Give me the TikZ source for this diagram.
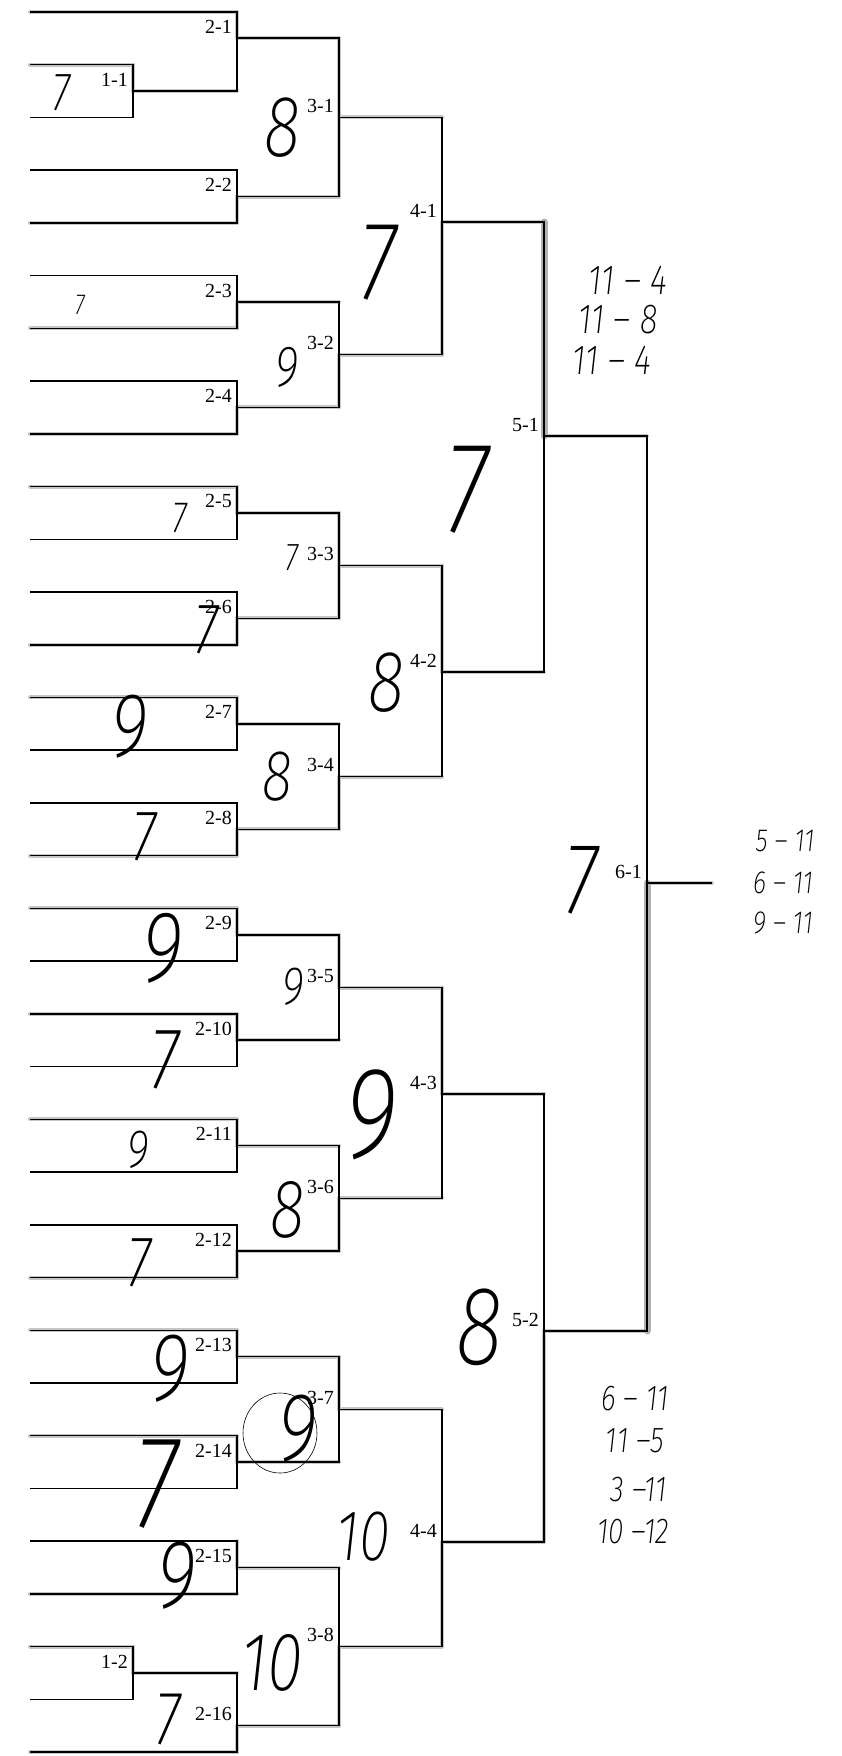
\documentclass[tikz,border=0pt]{standalone}
\usepackage{fontspec}
\setmainfont{Liberation Serif}
\newfontfamily\handfont{Fira Sans ExtraLight Italic}[FakeStretch=0.78]
\usetikzlibrary{calc}

\tikzset{
  bracket/.style={draw, line width=1.5pt},
  traced/.style={draw=gray!45, line width=4pt, line cap=round, yshift=2.2pt},
  vtraced/.style={draw=gray!45, line width=4pt, line cap=round, xshift=-2.2pt},
  heavytrace/.style={draw=gray!60, line width=7pt, line cap=round, xshift=-2pt},
  matchlabel/.style={anchor=base east, inner sep=0pt, font=\fontsize{20}{20}\selectfont},
  hand/.style={inner sep=0pt, font=\handfont\fontsize{#1}{#1}\selectfont},
  pencil/.style={draw, line width=0.6pt},
}

\begin{document}
\begin{tikzpicture}[x=1pt, y=-1pt]
  \useasboundingbox (0,0) rectangle (842,1756);

  % Entry lines (left ends)
  \foreach \i in {0,...,33}
    \coordinate (p\i) at (30, {12+52.73*\i});

  % Joints of the matches
  \coordinate (r1m1) at ($(p1)!0.5!(p2) + (103,0)$);
  \coordinate (r1m2) at ($(p31)!0.5!(p32) + (103,0)$);
  \coordinate (r2m1) at (237, 38);
  \foreach \k in {2,...,15}
    \coordinate (r2m\k) at (237, {12+52.73*(2*\k-0.5)});
  \coordinate (r2m16) at (237, {12+52.73*32.5});
  \foreach \k [evaluate=\k as \ua using int(2*\k-1), evaluate=\k as \ub using int(2*\k)] in {1,...,8}
    \coordinate (r3m\k) at ($(r2m\ua)!0.5!(r2m\ub) + (102,0)$);
  \coordinate (r4m1) at (442, 222);
  \coordinate (r4m2) at (442, 672);
  \coordinate (r4m3) at (442, 1094);
  \coordinate (r4m4) at (442, 1542);
  \coordinate (r5m1) at (544, 436);
  \coordinate (r5m2) at (544, 1331);
  \coordinate (r6m1) at (647, 883);
  \coordinate (champ) at (712, 883);

  % Pencil tracing of the winners
  \foreach \i/\m in {0/r2m1, 1/r1m1, 4/r2m2, 6/r2m3, 8/r2m4, 9/r2m5, 12/r2m6, 13/r2m7,
                     16/r2m8, 17/r2m9, 19/r2m10, 21/r2m11, 24/r2m12, 25/r2m13, 27/r2m14,
                     30/r2m15, 31/r1m2, 33/r2m16}
    \draw[traced] (p\i) -- (p\i -| \m);
  \foreach \a/\b in {r1m1/r2m1, r1m2/r2m16, r2m1/r3m1, r2m2/r3m1, r2m3/r3m2, r2m4/r3m2,
                     r2m5/r3m3, r2m6/r3m3, r2m7/r3m4, r2m8/r3m4, r2m9/r3m5, r2m10/r3m5,
                     r2m11/r3m6, r2m12/r3m6, r2m13/r3m7, r2m14/r3m7, r2m15/r3m8, r2m16/r3m8,
                     r3m1/r4m1, r3m2/r4m1, r3m3/r4m2, r3m4/r4m2, r3m5/r4m3, r3m6/r4m3,
                     r3m7/r4m4, r3m8/r4m4, r4m1/r5m1, r4m2/r5m1, r4m3/r5m2, r4m4/r5m2,
                     r5m1/r6m1, r5m2/r6m1, r6m1/champ}
    \draw[traced] (\a) -- (\a -| \b);
  \foreach \m/\f in {r1m1/p1, r1m2/p31, r2m1/p0, r2m2/p4, r2m3/p6, r2m4/p8, r2m5/p9,
                     r2m6/p12, r2m7/p13, r2m8/p16, r2m9/p17, r2m10/p19, r2m11/p21,
                     r2m12/p24, r2m13/p25, r2m14/p27, r2m15/p29, r2m16/p33,
                     r3m1/r2m1, r3m1/r2m2, r3m2/r2m4, r3m3/r2m5, r3m3/r2m6, r3m4/r2m8,
                     r3m5/r2m9, r3m6/r2m12, r3m7/r2m13, r3m8/r2m16,
                     r4m1/r3m2, r4m2/r3m3, r4m3/r3m5, r4m4/r3m8, r5m2/r4m4}
    \draw[vtraced] (\m) -- (\m |- \f);
  \draw[heavytrace] (r5m1) -- (r5m1 |- r4m1);
  \draw[heavytrace] (r6m1) -- (r6m1 |- r5m2);

  % Printed bracket
  \draw[bracket] (p1) -| (r1m1) |- (p2);
  \draw[bracket] (p31) -| (r1m2) |- (p32);
  \draw[bracket] (p0) -| (r2m1) |- (r1m1);
  \foreach \k [evaluate=\k as \ua using int(2*\k-1), evaluate=\k as \ub using int(2*\k)] in {2,...,15}
    \draw[bracket] (p\ua) -| (r2m\k) |- (p\ub);
  \draw[bracket] (r1m2) -| (r2m16) |- (p33);
  \foreach \k [evaluate=\k as \ua using int(2*\k-1), evaluate=\k as \ub using int(2*\k)] in {1,...,8}
    \draw[bracket] (r2m\ua) -| (r3m\k) |- (r2m\ub);
  \foreach \k [evaluate=\k as \ua using int(2*\k-1), evaluate=\k as \ub using int(2*\k)] in {1,...,4}
    \draw[bracket] (r3m\ua) -| (r4m\k) |- (r3m\ub);
  \draw[bracket] (r4m1) -| (r5m1) |- (r4m2);
  \draw[bracket] (r4m3) -| (r5m2) |- (r4m4);
  \draw[bracket] (r5m1) -| (r6m1) |- (r5m2);
  \draw[bracket] (r6m1) -- (champ);

  % Match numbers
  \foreach \rd/\n in {1/2, 2/16, 3/8, 4/4, 5/2, 6/1}
    \foreach \k in {1,...,\n}
      \node[matchlabel] (l\rd m\k) at ($(r\rd m\k)+(-5,-5)$) {\rd-\k};

  % Handwritten scores at the joints
  \foreach \t/\x/\y/\s [count=\n] in {7/62/93/54, 8/283/128/87, 7/378/263/112, 7/80/305/29,
      9/287/367/58, 7/180/518/44, 7/292/558/39, 7/207/630/72, 8/387/683/87, 9/130/727/91,
      8/277/777/72, 7/145/837/72, 7/467/490/130, 7/582/880/101, 9/163/948/101, 9/293/987/54,
      7/165/1060/87, 9/372/1115/130, 9/138/1150/54, 8/288/1210/83, 7/140/1263/72,
      9/170/1369/97, 9/298/1429/97, 7/157/1484/132, 9/177/1576/97, 10/363/1537/72,
      8/480/1327/112, 10/272/1663/83, 7/168/1720/76}
    \node[hand=\s] (h\n) at (\x,\y) {\t};
  \draw[pencil] ($(h23)+(-18,4)$) ellipse [x radius=37pt, y radius=40pt];

  % Handwritten game scores
  \node[hand=42] (s1) at (628,280) {11 \textendash\ 4};
  \node[hand=42] (s2) at (618,320) {11 \textendash\ 8};
  \node[hand=42] (s3) at (612,360) {11 \textendash\ 4};
  \node[hand=32] (s4) at (785,841) {5 \textendash\ 11};
  \node[hand=32] (s5) at (783,883) {6 \textendash\ 11};
  \node[hand=32] (s6) at (783,923) {9 \textendash\ 11};
  \node[hand=36] (s7) at (635,1399) {6 \textendash\ 11};
  \node[hand=36] (s8) at (635,1441) {11 \textendash 5};
  \node[hand=36] (s9) at (639,1490) {3 \textendash 11};
  \node[hand=36] (s10) at (633,1532) {10 \textendash 12};
\end{tikzpicture}
\end{document}
